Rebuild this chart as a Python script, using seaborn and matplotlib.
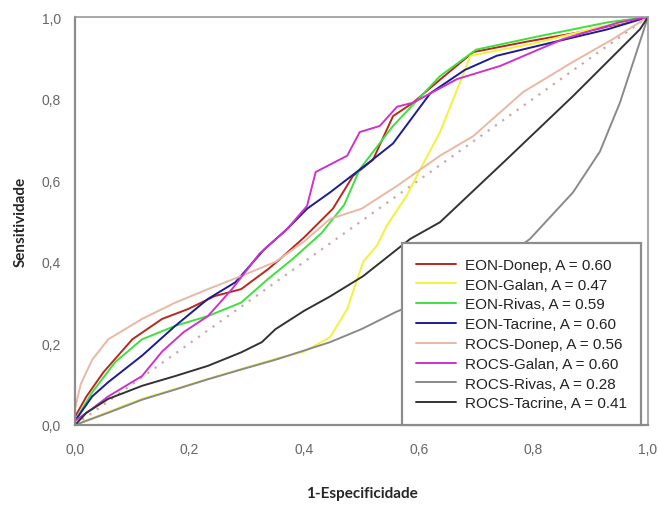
import pandas as pd
import seaborn as sns
import matplotlib.pyplot as plt

# ROC curves
donep_eon_x = [0, 0.02, 0.05, 0.1, 0.152, 0.197, 0.244, 0.29, 0.337, 0.358, 0.4, 0.45, 0.485, 0.52, 0.555, 0.59, 0.64, 0.695, 0.79, 0.91, 1.0]
donep_eon_y = [0.02, 0.07, 0.13, 0.21, 0.26, 0.284, 0.316, 0.333, 0.382, 0.407, 0.46, 0.53, 0.61, 0.65, 0.757, 0.79, 0.85, 0.914, 0.94, 0.97, 1.0]

galan_eon_x = [0, 0.058, 0.117, 0.175, 0.232, 0.29, 0.35, 0.4, 0.445, 0.475, 0.503, 0.527, 0.544, 0.58, 0.6, 0.637, 0.672, 0.69, 0.8, 0.9, 1.0]
galan_eon_y = [0, 0.032, 0.064, 0.088, 0.113, 0.137, 0.162, 0.18, 0.215, 0.284, 0.40, 0.44, 0.488, 0.565, 0.62, 0.718, 0.84, 0.905, 0.935, 0.97, 1.0]

rivas_eon_x = [0, 0.03, 0.07, 0.117, 0.175, 0.232, 0.29, 0.337, 0.38, 0.43, 0.47, 0.497, 0.555, 0.6, 0.637, 0.7, 0.81, 0.93, 1.0]
rivas_eon_y = [0.01, 0.08, 0.154, 0.21, 0.243, 0.267, 0.30, 0.358, 0.407, 0.47, 0.54, 0.627, 0.733, 0.8, 0.855, 0.92, 0.953, 0.987, 1.0]

tacrine_eon_x = [0, 0.03, 0.058, 0.117, 0.175, 0.232, 0.28, 0.33, 0.37, 0.405, 0.445, 0.51, 0.555, 0.62, 0.68, 0.736, 0.81, 0.93, 1.0]
tacrine_eon_y = [0.01, 0.07, 0.105, 0.17, 0.243, 0.309, 0.35, 0.43, 0.48, 0.53, 0.57, 0.64, 0.69, 0.813, 0.87, 0.905, 0.93, 0.97, 1.0]

donep_rocs_x = [0, 0.01, 0.03, 0.058, 0.117, 0.175, 0.232, 0.29, 0.35, 0.40, 0.445, 0.5, 0.562, 0.637, 0.695, 0.782, 0.869, 0.939, 1.0]
donep_rocs_y = [0.04, 0.10, 0.16, 0.21, 0.26, 0.30, 0.333, 0.365, 0.40, 0.45, 0.505, 0.53, 0.586, 0.66, 0.708, 0.816, 0.89, 0.946, 1.0]

galan_rocs_x = [0, 0.03, 0.058, 0.117, 0.152, 0.19, 0.232, 0.274, 0.322, 0.37, 0.405, 0.42, 0.475, 0.497, 0.532, 0.562, 0.59, 0.667, 0.742, 0.852, 0.95, 1.0]
galan_rocs_y = [0.01, 0.04, 0.07, 0.12, 0.18, 0.228, 0.267, 0.333, 0.42, 0.48, 0.537, 0.62, 0.66, 0.718, 0.733, 0.78, 0.79, 0.848, 0.88, 0.946, 0.987, 1.0]

rivas_rocs_x = [0, 0.058, 0.117, 0.175, 0.232, 0.29, 0.35, 0.445, 0.5, 0.56, 0.65, 0.72, 0.794, 0.869, 0.916, 0.951, 0.98, 1.0]
rivas_rocs_y = [0, 0.03, 0.062, 0.087, 0.112, 0.136, 0.16, 0.203, 0.235, 0.277, 0.33, 0.38, 0.456, 0.57, 0.67, 0.79, 0.914, 1.0]

tacrine_rocs_x = [0, 0.02, 0.058, 0.117, 0.175, 0.232, 0.29, 0.326, 0.35, 0.4, 0.445, 0.503, 0.585, 0.637, 0.754, 0.869, 0.939, 0.986, 1.0]
tacrine_rocs_y = [0, 0.03, 0.064, 0.096, 0.12, 0.145, 0.178, 0.203, 0.235, 0.28, 0.315, 0.365, 0.456, 0.497, 0.652, 0.806, 0.904, 0.97, 1.0]

labels = ['EON-Donep, A = 0.60', 'EON-Galan, A = 0.47', 'EON-Rivas, A = 0.59', 'EON-Tacrine, A = 0.60',
          'ROCS-Donep, A = 0.56', 'ROCS-Galan, A = 0.60', 'ROCS-Rivas, A = 0.28', 'ROCS-Tacrine, A = 0.41']
colors = ['#b8281c', '#f2f23a', '#3ee03e', '#1c1c96', '#e8b8a4', '#cc33cc', '#8a8a8a', '#333333']

series = [(donep_eon_x, donep_eon_y), (galan_eon_x, galan_eon_y), (rivas_eon_x, rivas_eon_y),
          (tacrine_eon_x, tacrine_eon_y), (donep_rocs_x, donep_rocs_y), (galan_rocs_x, galan_rocs_y),
          (rivas_rocs_x, rivas_rocs_y), (tacrine_rocs_x, tacrine_rocs_y)]

sns.set_style("white")
plt.rcParams['font.family'] = ['Liberation Sans', 'DejaVu Sans']

fig = plt.figure(figsize=(6.58, 5.06), dpi=100)
ax = fig.add_axes([75 / 658, 80 / 506, 573 / 658, 408 / 506])

# chance diagonal
ax.plot([0, 1], [0, 1], linestyle=(0, (1, 3)), color='#c9a9a6', lw=1.6, zorder=1)

for (xs, ys), lab, col in zip(series, labels, colors):
    df = pd.DataFrame({'x': xs, 'y': ys})
    sns.lineplot(data=df, x='x', y='y', color=col, label=lab, lw=1.4,
                 estimator=None, sort=False, ax=ax)

ax.set_xlim(0, 1)
ax.set_ylim(0, 1)
ticks = [0, 0.2, 0.4, 0.6, 0.8, 1.0]
ax.set_xticks(ticks)
ax.set_yticks(ticks)
ax.set_xticklabels([f"{t:.1f}".replace('.', ',') for t in ticks])
ax.set_yticklabels([f"{t:.1f}".replace('.', ',') for t in ticks])
ax.tick_params(axis='both', direction='out', length=4, width=1, color='#888888',
               labelcolor='#666666', labelsize=10, pad=6)
ax.tick_params(axis='x', pad=8)

for side in ['left', 'bottom']:
    ax.spines[side].set_color('#8c8c8c')
    ax.spines[side].set_linewidth(1.6)
for side in ['top', 'right']:
    ax.spines[side].set_color('#9a9a9a')
    ax.spines[side].set_linewidth(1.2)

ax.set_xlabel('1-Especificidade', fontsize=11, fontweight='bold', family='Lato', labelpad=22)
ax.set_ylabel('Sensitividade', fontsize=11, fontweight='bold', family='Lato', labelpad=10)

leg = ax.legend(loc='lower right', bbox_to_anchor=(0.988, 0.0), borderaxespad=0,
                fontsize=11, frameon=True, fancybox=False, framealpha=1,
                handlelength=2.6, handletextpad=0.55, labelspacing=0.38,
                borderpad=0.95)
leg.get_frame().set_edgecolor('#8c8c8c')
leg.get_frame().set_linewidth(1.6)
for t in leg.get_texts():
    t.set_color('#222222')

plt.savefig('out.png', dpi=100)
